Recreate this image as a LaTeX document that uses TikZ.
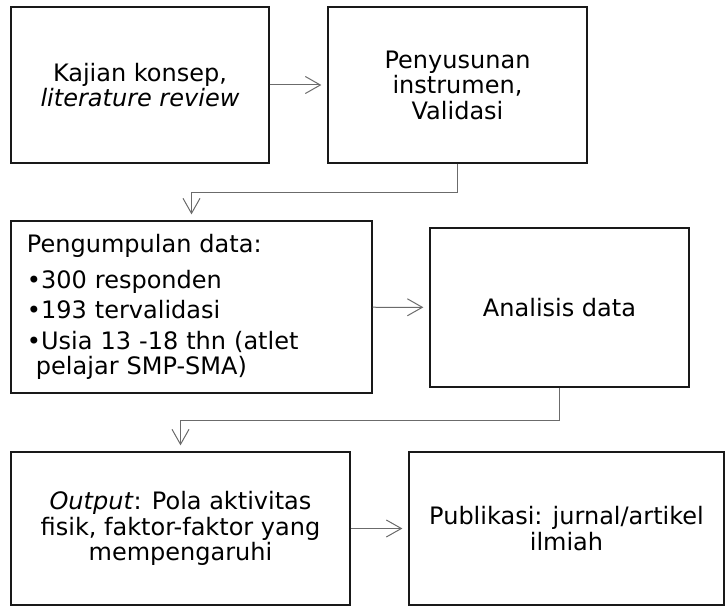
\documentclass[tikz,border=0pt]{standalone}
\usepackage{fontspec}
\setmainfont{DejaVu Sans}
\usetikzlibrary{arrows.meta}
\tikzset{
	kotak/.style={draw=black!90, line width=1.3pt, align=center, inner sep=0pt, font=\fontsize{24}{25.5}\selectfont},
	panah/.style={draw=black!58, line width=1pt, -{Straight Barb[length=15pt,width=17pt]}, shorten >=6pt}
}

\begin{document}
\begin{tikzpicture}[x=1pt, y=-1pt]
			%%%%% START %%%%%
			\useasboundingbox (0,0) rectangle (725,607);
			
			\node[kotak, minimum width=258pt, minimum height=156pt] (kajian) at (140, 85) {Kajian konsep,\\\textit{literature review}};
			\node[kotak, minimum width=259pt, minimum height=156pt] (instrumen) at (457.5, 85) {Penyusunan\\instrumen,\\Validasi};
			
			\node[kotak, minimum width=361pt, minimum height=172pt, inner xsep=16pt, text width=329pt, align=left] (pengumpulan) at (191.5, 307) {Pengumpulan data:\\[10pt]
				•300 responden\\[5pt]
				•193 tervalidasi\\[5pt]
				•Usia 13 -18 thn (atlet\\
				\hspace*{9pt}pelajar SMP-SMA)};
			\node[kotak, minimum width=259pt, minimum height=159pt] (analisis) at (559.5, 307.5) {Analisis data};
			
			\node[kotak, minimum width=339pt, minimum height=153pt] (output) at (180.5, 528.5) {\textit{Output}: Pola aktivitas\\fisik, faktor-faktor yang\\mempengaruhi};
			\node[kotak, minimum width=315pt, minimum height=153pt] (publikasi) at (566.5, 528.5) {Publikasi: jurnal/artikel\\ilmiah};
			
			\draw[panah] (kajian) -- (instrumen);
			\draw[panah] (instrumen.south) -- ++(0,29) -| (pengumpulan.north);
			\draw[panah] (pengumpulan) -- (analisis);
			\draw[panah] (analisis.south) -- ++(0,32.5) -| (output.north);
			\draw[panah] (output) -- (publikasi);
			
			%%%%% END %%%%%
\end{tikzpicture}
\end{document}
